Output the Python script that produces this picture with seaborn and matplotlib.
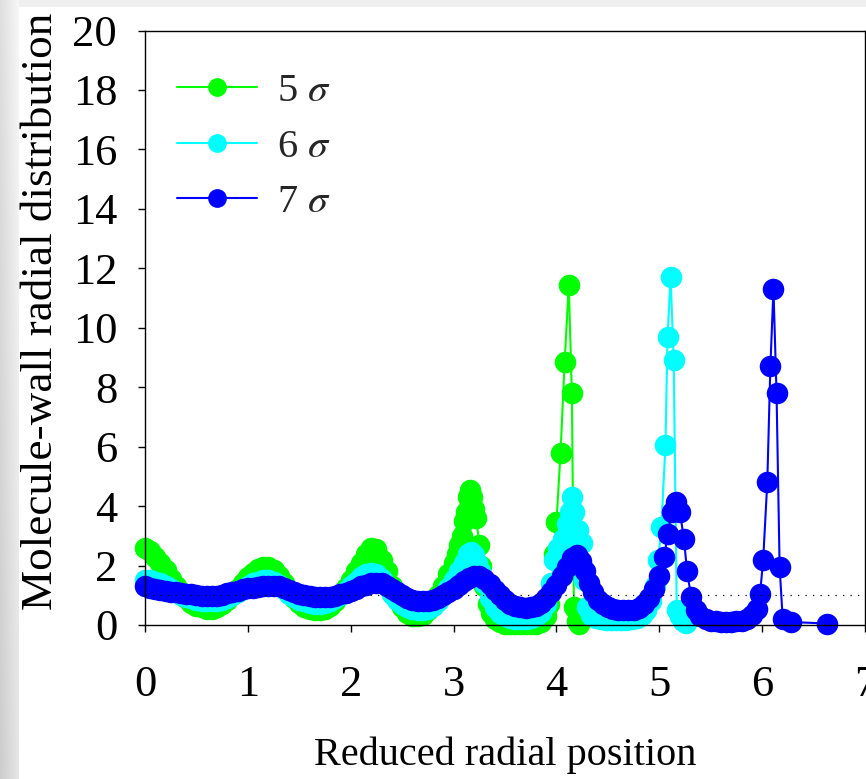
import numpy as np
import pandas as pd
import matplotlib
matplotlib.use("Agg")
import matplotlib.pyplot as plt
import seaborn as sns
from matplotlib.lines import Line2D

# ---------------- data ----------------
x5 = [0.00, 0.05, 0.10, 0.15, 0.20, 0.25, 0.30, 0.35, 0.40, 0.45,
      0.50, 0.55, 0.60, 0.65, 0.70, 0.75, 0.80, 0.85, 0.90, 0.95,
      1.00, 1.05, 1.10, 1.15, 1.20, 1.25, 1.30, 1.35, 1.40, 1.45,
      1.50, 1.55, 1.60, 1.65, 1.70, 1.75, 1.80, 1.85, 1.90, 1.95,
      2.00, 2.05, 2.10, 2.15, 2.20, 2.25, 2.30, 2.35, 2.40, 2.45,
      2.50, 2.55, 2.60, 2.65, 2.70, 2.75, 2.80, 2.85, 2.90, 2.95,
      3.00, 3.03, 3.05, 3.08, 3.10, 3.12, 3.14, 3.16, 3.18, 3.20,
      3.22, 3.25, 3.27, 3.30, 3.33, 3.36, 3.40, 3.45, 3.50, 3.55,
      3.60, 3.65, 3.70, 3.75, 3.80, 3.85, 3.90, 3.93, 3.96, 3.98,
      4.00, 4.04, 4.08, 4.12, 4.15, 4.17, 4.20, 4.22]
y5 = [2.6, 2.5, 2.3, 2.1, 1.85, 1.55, 1.3, 1.1, 0.9, 0.75,
      0.65, 0.6, 0.55, 0.55, 0.6, 0.7, 0.85, 1.0, 1.2, 1.4,
      1.6, 1.75, 1.9, 1.95, 1.95, 1.85, 1.65, 1.4, 1.15, 0.9,
      0.75, 0.6, 0.55, 0.5, 0.5, 0.55, 0.65, 0.8, 1.0, 1.25,
      1.5, 1.8, 2.1, 2.4, 2.6, 2.55, 2.2, 1.8, 1.3, 0.9,
      0.6, 0.4, 0.3, 0.3, 0.35, 0.5, 0.7, 1.0, 1.3, 1.7,
      2.1, 2.4, 2.7, 3.0, 3.5, 3.8, 4.3, 4.55, 4.3, 3.9,
      3.6, 2.7, 2.0, 1.3, 0.7, 0.4, 0.2, 0.1, 0.05, 0.05,
      0.03, 0.03, 0.03, 0.05, 0.05, 0.1, 0.3, 0.7, 1.3, 2.4,
      3.45, 5.8, 8.85, 11.45, 7.8, 0.6, 0.15, 0.05]

x6 = [0.00, 0.05, 0.10, 0.15, 0.20, 0.25, 0.30, 0.35, 0.40, 0.45,
      0.50, 0.55, 0.60, 0.65, 0.70, 0.75, 0.80, 0.85, 0.90, 0.95,
      1.00, 1.05, 1.10, 1.15, 1.20, 1.25, 1.30, 1.35, 1.40, 1.45,
      1.50, 1.55, 1.60, 1.65, 1.70, 1.75, 1.80, 1.85, 1.90, 1.95,
      2.00, 2.05, 2.10, 2.15, 2.20, 2.25, 2.30, 2.35, 2.40, 2.45,
      2.50, 2.55, 2.60, 2.65, 2.70, 2.75, 2.80, 2.85, 2.90, 2.95,
      3.00, 3.05, 3.10, 3.14, 3.17, 3.20, 3.23, 3.26, 3.30, 3.35,
      3.40, 3.45, 3.50, 3.55, 3.60, 3.65, 3.70, 3.75, 3.80, 3.85,
      3.90, 3.95, 3.98, 4.02, 4.06, 4.10, 4.13, 4.15, 4.17, 4.21,
      4.25, 4.27, 4.30, 4.34, 4.38, 4.43, 4.48, 4.53, 4.58, 4.63,
      4.68, 4.73, 4.78, 4.83, 4.87, 4.92, 4.96, 4.99, 5.02, 5.06,
      5.08, 5.11, 5.14, 5.17, 5.20, 5.23, 5.26]
y6 = [1.5, 1.5, 1.45, 1.4, 1.3, 1.2, 1.1, 1.0, 0.95, 0.9,
      0.85, 0.82, 0.8, 0.8, 0.82, 0.85, 0.9, 1.0, 1.1, 1.2,
      1.3, 1.4, 1.45, 1.5, 1.5, 1.45, 1.35, 1.2, 1.05, 0.95,
      0.85, 0.8, 0.75, 0.72, 0.72, 0.75, 0.8, 0.9, 1.0, 1.15,
      1.3, 1.45, 1.6, 1.7, 1.75, 1.7, 1.55, 1.3, 1.05, 0.85,
      0.7, 0.6, 0.55, 0.5, 0.5, 0.55, 0.65, 0.8, 1.0, 1.25,
      1.5, 1.8, 2.1, 2.4, 2.45, 2.35, 2.1, 1.8, 1.4, 0.9,
      0.6, 0.4, 0.3, 0.25, 0.2, 0.2, 0.2, 0.25, 0.3, 0.45,
      0.7, 1.4, 2.2, 2.6, 2.9, 3.4, 3.8, 4.3, 3.8, 3.2,
      2.75, 1.5, 0.6, 0.35, 0.25, 0.2, 0.18, 0.18, 0.18, 0.18,
      0.18, 0.2, 0.25, 0.35, 0.5, 0.8, 1.3, 2.2, 3.3, 6.05,
      9.7, 11.7, 8.9, 0.5, 0.3, 0.12, 0.07]

x7 = [0.00, 0.05, 0.10, 0.15, 0.20, 0.25, 0.30, 0.35, 0.40, 0.45,
      0.50, 0.55, 0.60, 0.65, 0.70, 0.75, 0.80, 0.85, 0.90, 0.95,
      1.00, 1.05, 1.10, 1.15, 1.20, 1.25, 1.30, 1.35, 1.40, 1.45,
      1.50, 1.55, 1.60, 1.65, 1.70, 1.75, 1.80, 1.85, 1.90, 1.95,
      2.00, 2.05, 2.10, 2.15, 2.20, 2.25, 2.30, 2.35, 2.40, 2.45,
      2.50, 2.55, 2.60, 2.65, 2.70, 2.75, 2.80, 2.85, 2.90, 2.95,
      3.00, 3.05, 3.10, 3.15, 3.20, 3.25, 3.30, 3.35, 3.40, 3.45,
      3.50, 3.55, 3.60, 3.65, 3.70, 3.75, 3.80, 3.85, 3.90, 3.95,
      4.00, 4.05, 4.10, 4.15, 4.20, 4.24, 4.28, 4.32, 4.36, 4.40,
      4.45, 4.50, 4.55, 4.60, 4.65, 4.70, 4.75, 4.80, 4.85, 4.90,
      4.95, 5.00, 5.05, 5.08, 5.12, 5.16, 5.20, 5.24, 5.27, 5.31,
      5.36, 5.40, 5.45, 5.50, 5.55, 5.60, 5.65, 5.70, 5.75, 5.80,
      5.85, 5.90, 5.95, 5.98, 6.01, 6.05, 6.08, 6.11, 6.14, 6.17,
      6.20, 6.28, 6.63]
y7 = [1.3, 1.25, 1.2, 1.18, 1.15, 1.12, 1.1, 1.08, 1.05, 1.03,
      1.0, 0.98, 0.96, 0.96, 0.98, 1.02, 1.06, 1.1, 1.15, 1.2,
      1.23, 1.25, 1.28, 1.3, 1.32, 1.32, 1.3, 1.25, 1.18, 1.1,
      1.05, 1.0, 0.97, 0.95, 0.93, 0.93, 0.95, 0.98, 1.03, 1.08,
      1.15, 1.22, 1.3, 1.35, 1.4, 1.42, 1.4, 1.32, 1.22, 1.1,
      1.0, 0.92, 0.85, 0.82, 0.8, 0.8, 0.83, 0.9, 1.0, 1.1,
      1.22, 1.35, 1.48, 1.58, 1.65, 1.65, 1.55, 1.38, 1.18, 1.0,
      0.85, 0.72, 0.65, 0.6, 0.58, 0.6, 0.65, 0.75, 0.9, 1.1,
      1.35, 1.65, 1.95, 2.25, 2.35, 2.15, 1.8, 1.4, 1.1, 0.85,
      0.7, 0.6, 0.55, 0.52, 0.5, 0.5, 0.52, 0.58, 0.7, 0.9,
      1.2, 1.65, 2.3, 3.05, 3.8, 4.15, 3.8, 2.9, 1.8, 0.95,
      0.5, 0.3, 0.2, 0.15, 0.12, 0.1, 0.1, 0.1, 0.12, 0.15,
      0.2, 0.35, 0.55, 1.05, 2.2, 4.8, 8.7, 11.3, 7.8, 1.95,
      0.2, 0.1, 0.05]

labels = ["5 $\\sigma$", "6 $\\sigma$", "7 $\\sigma$"]
colors = ["#00ff00", "#00ffff", "#0000ff"]
x_ticks = [0, 1, 2, 3, 4, 5, 6, 7]
y_ticks = [0, 2, 4, 6, 8, 10, 12, 14, 16, 18, 20]

# ---------------- style ----------------
sns.set_theme(style="white")
plt.rcParams['font.family'] = ['Liberation Serif', 'DejaVu Serif']
plt.rcParams['mathtext.fontset'] = 'stix'

W, H = 866, 779
fig = plt.figure(figsize=(W / 100, H / 100), dpi=100)
fig.patch.set_facecolor('white')

# background: grey gradient strip at the left, faint strip at the top
bg = np.ones((H, W))
rows = np.arange(H)
for xi in range(19):
    bg[:, xi] = 0.80 + 0.10 * (xi / 19.0) + 0.07 * (1 - rows / H)
bg[:7, 19:] = 0.94
bg_ax = fig.add_axes([0, 0, 1, 1], zorder=-5)
bg_ax.imshow(bg, cmap='gray', vmin=0, vmax=1, aspect='auto', extent=[0, 1, 0, 1])
bg_ax.axis('off')

ax = fig.add_axes([145 / W, 154 / H, 720 / W, 594.5 / H])
ax.set_facecolor('white')

series = [(x5, y5), (x6, y6), (x7, y7)]
for (xs, ys), c in zip(series, colors):
    df = pd.DataFrame({'x': xs, 'y': ys})
    sns.lineplot(data=df, x='x', y='y', ax=ax, color=c, marker='o',
                 markersize=15.5, markeredgecolor=c, markeredgewidth=0,
                 linewidth=1.5, sort=False, estimator=None, legend=False)
for ln in ax.lines:
    ln.set_clip_on(False)

ax.axhline(1.0, color='black', linestyle=(0, (1, 5)), linewidth=0.9, zorder=5)

ax.set_xlim(0, 7)
ax.set_ylim(0, 20)
ax.set_xticks(x_ticks)
ax.set_yticks(y_ticks)
ax.tick_params(axis='both', which='major', bottom=True, left=True,
               direction='out', length=5, width=1, color='black',
               labelsize=32, labelcolor='black')
ax.tick_params(axis='x', pad=24)
ax.tick_params(axis='y', pad=15)
for s in ax.spines.values():
    s.set_color('black')
    s.set_linewidth(1.0)

ax.set_xlabel("Reduced radial position", fontsize=29, color='black')
ax.xaxis.set_label_coords(0.5, -0.188)
ax.set_ylabel("Molecule-wall radial distribution", fontsize=32.5, color='black')
ax.yaxis.set_label_coords(-0.116, 0.528)

handles = [Line2D([0], [0], color=c, lw=1.5, marker='o', markersize=13.5,
                  markeredgecolor=c, markeredgewidth=0) for c in colors]
ax.legend(handles, labels, loc='upper left', bbox_to_anchor=(32 / 720, 0.928),
          frameon=False, fontsize=29, handlelength=1.99, handletextpad=0.5,
          labelspacing=0.45, borderaxespad=0, borderpad=0)

fig.savefig("out.png", dpi=100)
